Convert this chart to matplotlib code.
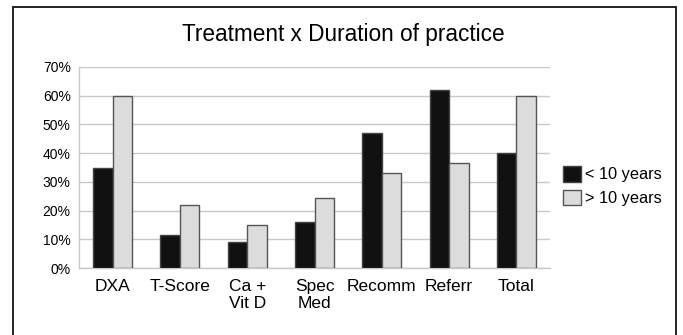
import numpy as np
import matplotlib
matplotlib.use('Agg')
import matplotlib.pyplot as plt
from matplotlib.patches import Rectangle
from matplotlib.ticker import FixedLocator, FuncFormatter

plt.rcParams['font.family'] = ['Liberation Sans', 'DejaVu Sans']

categories = ['DXA', 'T-Score', 'Ca +\nVit D', 'Spec\nMed', 'Recomm', 'Referr', 'Total']
under_10 = [35, 11.5, 9, 16, 47, 62, 40]
over_10 = [60, 22, 15, 24.5, 33, 36.5, 60]
series_names = ['< 10 years', '> 10 years']
yticks = [0, 10, 20, 30, 40, 50, 60, 70]

fig = plt.figure(figsize=(6.83, 3.35), dpi=100)
ax = fig.add_axes([79/683, 1-268/335, 471/683, 201/335])

x = np.arange(len(categories))
w = 0.29
ax.bar(x - w/2, under_10, w, color='#111111', edgecolor='#444444', linewidth=1.0,
       label=series_names[0], zorder=3)
ax.bar(x + w/2, over_10, w, color='#dcdcdc', edgecolor='#555555', linewidth=1.0,
       label=series_names[1], zorder=3)

ax.set_xlim(-0.5, len(categories) - 0.5)
ax.set_ylim(0, 70)
ax.yaxis.set_major_locator(FixedLocator(yticks))
ax.yaxis.set_major_formatter(FuncFormatter(lambda v, p: '%d%%' % v))
ax.set_xticks(x)
ax.set_xticklabels(categories, fontsize=12.5, va='top', linespacing=1.15)
ax.tick_params(axis='y', length=0, labelsize=10, pad=6)
ax.tick_params(axis='x', length=0, pad=8)
ax.grid(axis='y', color='#c8c8c8', linewidth=1.0, zorder=0)
for s in ['top', 'right']:
    ax.spines[s].set_visible(False)
for s in ['left', 'bottom']:
    ax.spines[s].set_color('#c8c8c8')
    ax.spines[s].set_linewidth(1.0)

leg = ax.legend(loc='center left', bbox_to_anchor=(1.028, 0.408), frameon=False,
                fontsize=11.8, handlelength=1.1, handleheight=1.1, handletextpad=0.25,
                labelspacing=0.45, borderaxespad=0, borderpad=0)

fig.text(343/683, 1-35/335, 'Treatment x Duration of practice', ha='center', va='center',
         fontsize=16.3)

# outer frame, cut at the bottom edge
fig.patches.append(Rectangle((12.5/683, -0.05), 663/683, 1.05 - 7.5/335,
                             transform=fig.transFigure, fill=False,
                             edgecolor='#111111', linewidth=1.3))

fig.savefig('out.png', dpi=100)
